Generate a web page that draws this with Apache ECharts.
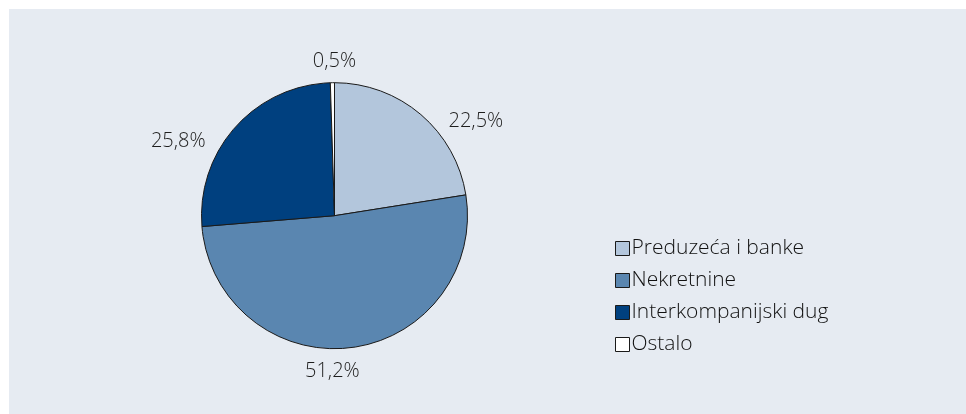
<!DOCTYPE html>
<html>
<head>
<meta charset="utf-8">
<style>
  html, body { margin: 0; padding: 0; background: #ffffff; }
  #chart { width: 966px; height: 414px; }
</style>
<script src="https://cdn.jsdelivr.net/npm/echarts@6/dist/echarts.min.js"></script>
</head>
<body>
<div id="chart"></div>
<script>
// Structure of the portfolio (shares in %)
const categories = ['Preduzeća i banke', 'Nekretnine', 'Interkompanijski dug', 'Ostalo'];
const shares = [22.5, 51.2, 25.8, 0.5];
const sliceColors = ['#b3c6dc', '#5a86b0', '#00407f', '#ffffff'];
// small offsets of each percentage label from the slice's outer mid-point
const labelNudge = [[55, 7], [-18, 24], [-57, 14], [2, -21]];

const CX = 334.5, CY = 215.7, R = 133;
const FONT = '"Open Sans", "Noto Sans", sans-serif';

const total = shares.reduce((a, b) => a + b, 0);
// mid-angle (degrees, counter-clockwise from +x) of every slice, drawn clockwise from 12 o'clock
const midAngles = [];
let acc = 0;
shares.forEach(v => {
  midAngles.push(90 - (acc + v / 2) / total * 360);
  acc += v;
});

const chart = echarts.init(document.getElementById('chart'), null, { renderer: 'canvas' });
chart.setOption({
  backgroundColor: '#ffffff',
  animation: false,
  graphic: [{
    type: 'rect',
    z: -10,
    silent: true,
    shape: { x: 9, y: 9, width: 966, height: 414 },
    style: { fill: '#e6ebf2' }
  }],
  legend: {
    orient: 'vertical',
    left: 610,
    top: 233,
    itemWidth: 14,
    itemHeight: 14,
    itemGap: 11,
    icon: 'rect',
    data: categories,
    itemStyle: { borderColor: '#1a1a1a', borderWidth: 1 },
    textStyle: { fontFamily: FONT, fontSize: 21, fontWeight: 300, color: '#111111', padding: [0, 0, 0, -3], lineHeight: 20 }
  },
  series: [{
    type: 'pie',
    center: [CX, CY],
    radius: R,
    startAngle: 90,
    clockwise: true,
    avoidLabelOverlap: false,
    data: categories.map((name, i) => ({ name, value: shares[i], itemStyle: { color: sliceColors[i] } })),
    itemStyle: { borderColor: '#1a1a1a', borderWidth: 1 },
    label: {
      show: true,
      position: 'outside',
      formatter: p => p.value.toFixed(1).replace('.', ',') + '%',
      fontFamily: FONT,
      fontSize: 20,
      fontWeight: 300,
      color: '#1e1e1e'
    },
    labelLine: { show: false },
    emphasis: { disabled: true },
    labelLayout: function (params) {
      const i = params.dataIndex;
      const a = midAngles[i] * Math.PI / 180;
      return {
        x: CX + R * Math.cos(a) + labelNudge[i][0],
        y: CY - R * Math.sin(a) + labelNudge[i][1],
        align: 'center',
        verticalAlign: 'middle'
      };
    }
  }]
});
</script>
</body>
</html>
